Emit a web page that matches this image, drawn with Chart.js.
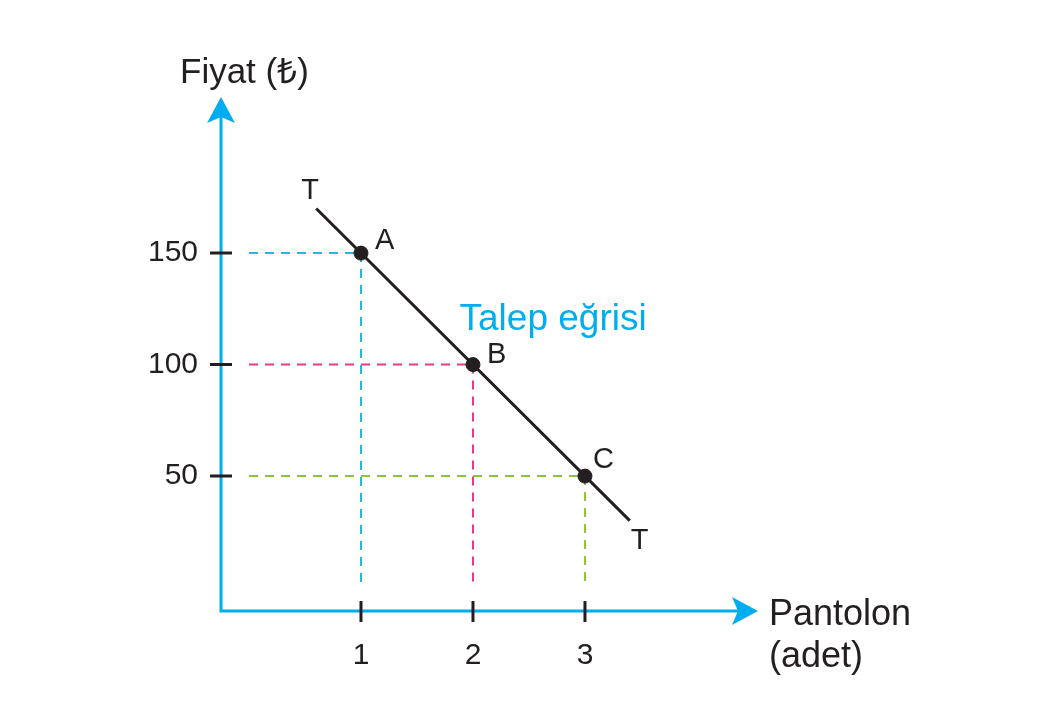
<!DOCTYPE html>
<html>
<head>
<meta charset="utf-8">
<script src="https://cdn.jsdelivr.net/npm/chart.js@4.4.0/dist/chart.umd.min.js"></script>
<style>
  html, body { margin: 0; padding: 0; background: #fff; }
  #wrap { width: 1058px; height: 721px; }
</style>
</head>
<body>
<div id="wrap"><canvas id="talepChart" width="1058" height="721"></canvas></div>
<script>
// veriler
const quantities = [1, 2, 3];          // Pantolon (adet)
const prices = [150, 100, 50];         // Fiyat
const pointNames = ['A', 'B', 'C'];
const curveX = [0.6, 3.4];             // T - T doğrusu uçları
const curveY = [170, 30];
const xTicks = [1, 2, 3];
const yTicks = [50, 100, 150];
const guideColors = ['#29b5e8', '#e6398e', '#8cc63f'];

const AXIS_BLUE = '#00aeef';
const INK = '#231f20';
const FONT = '"Liberation Sans", Arial, Helvetica, sans-serif';

// kesikli kılavuz çizgileri: (0,y) -> (x,y) -> (x,0)
const guideSets = quantities.map((q, i) => ({
    type: 'line',
    data: [{ x: 0, y: prices[i] }, { x: q, y: prices[i] }, { x: q, y: 0 }],
    borderColor: guideColors[i],
    borderWidth: 2,
    borderDash: [9, 7],
    pointRadius: 0,
    fill: false,
    order: 1
}));

const axisPlugin = {
    id: 'axisPlugin',
    afterDraw(chart) {
        const ctx = chart.ctx;
        const area = chart.chartArea;
        const xs = chart.scales.x;
        const ys = chart.scales.y;
        const ox = area.left, oy = area.bottom;

        ctx.save();
        // eksen çizgileri
        ctx.strokeStyle = AXIS_BLUE;
        ctx.lineWidth = 3;
        ctx.beginPath();
        ctx.moveTo(ox, area.top + 20);
        ctx.lineTo(ox, oy);
        ctx.lineTo(area.right - 20, oy);
        ctx.stroke();

        // oklar
        ctx.fillStyle = AXIS_BLUE;
        ctx.beginPath();
        ctx.moveTo(ox, area.top);
        ctx.lineTo(ox + 14, area.top + 26);
        ctx.lineTo(ox, area.top + 20);
        ctx.lineTo(ox - 14, area.top + 26);
        ctx.closePath();
        ctx.fill();
        ctx.beginPath();
        ctx.moveTo(area.right, oy);
        ctx.lineTo(area.right - 26, oy - 14);
        ctx.lineTo(area.right - 20, oy);
        ctx.lineTo(area.right - 26, oy + 14);
        ctx.closePath();
        ctx.fill();

        // çentikler
        ctx.strokeStyle = INK;
        ctx.lineWidth = 3;
        ctx.beginPath();
        yTicks.forEach(v => {
            const py = ys.getPixelForValue(v);
            ctx.moveTo(ox - 11, py);
            ctx.lineTo(ox + 11, py);
        });
        xTicks.forEach(v => {
            const px = xs.getPixelForValue(v);
            ctx.moveTo(px, oy - 10);
            ctx.lineTo(px, oy + 11);
        });
        ctx.stroke();

        // metinler
        ctx.fillStyle = INK;
        ctx.textBaseline = 'alphabetic';
        ctx.textAlign = 'left';
        ctx.font = '35px ' + FONT;
        ctx.fillText('Fiyat (₺)', ox - 41, area.top - 14);
        ctx.font = '36px ' + FONT;
        ctx.fillText('Pantolon', area.right + 11, oy + 14);
        ctx.fillText('(adet)', area.right + 11, oy + 56);

        ctx.font = '29px ' + FONT;
        const offs = [[14, -4], [14, -2], [8, -8]];
        quantities.forEach((q, i) => {
            const px = xs.getPixelForValue(q);
            const py = ys.getPixelForValue(prices[i]);
            ctx.fillText(pointNames[i], px + offs[i][0], py + offs[i][1]);
        });
        const t0x = xs.getPixelForValue(curveX[0]), t0y = ys.getPixelForValue(curveY[0]);
        const t1x = xs.getPixelForValue(curveX[1]), t1y = ys.getPixelForValue(curveY[1]);
        ctx.fillText('T', t0x - 15, t0y - 9);
        ctx.fillText('T', t1x + 1, t1y + 28);

        ctx.fillStyle = AXIS_BLUE;
        ctx.font = '37px ' + FONT;
        ctx.fillText('Talep eğrisi', xs.getPixelForValue(1.88), ys.getPixelForValue(115.5));
        ctx.restore();
    }
};

new Chart(document.getElementById('talepChart'), {
    type: 'scatter',
    data: {
        datasets: [
            ...guideSets,
            {
                type: 'line',
                data: curveX.map((x, i) => ({ x: x, y: curveY[i] })),
                borderColor: INK,
                borderWidth: 3,
                pointRadius: 0,
                fill: false,
                order: 0
            },
            {
                type: 'scatter',
                data: quantities.map((q, i) => ({ x: q, y: prices[i] })),
                backgroundColor: INK,
                borderColor: INK,
                borderWidth: 1,
                pointRadius: 7,
                pointHoverRadius: 7,
                order: -1
            }
        ]
    },
    options: {
        responsive: false,
        animation: false,
        events: [],
        layout: { padding: { left: 0, right: 300, top: 97, bottom: 0 } },
        plugins: { legend: { display: false }, tooltip: { enabled: false } },
        scales: {
            x: {
                type: 'linear',
                min: -0.25,
                max: 4.545,
                grid: { display: false, drawTicks: false },
                border: { display: false },
                afterBuildTicks: s => { s.ticks = xTicks.map(v => ({ value: v })); },
                afterFit: s => { s.height = 110; },
                ticks: {
                    padding: 27,
                    color: INK,
                    font: { family: FONT, size: 30 },
                    maxRotation: 0
                }
            },
            y: {
                type: 'linear',
                min: -10.5,
                max: 220,
                grid: { display: false, drawTicks: false },
                border: { display: false },
                afterBuildTicks: s => { s.ticks = yTicks.map(v => ({ value: v })); },
                afterFit: s => { s.width = 221; },
                ticks: {
                    padding: 23,
                    color: INK,
                    font: { family: FONT, size: 30 }
                }
            }
        }
    },
    plugins: [axisPlugin]
});
</script>
</body>
</html>
